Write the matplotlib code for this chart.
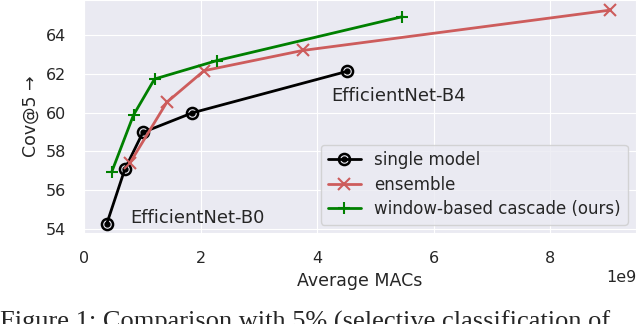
import matplotlib
matplotlib.use("Agg")
import matplotlib.pyplot as plt
import seaborn as sns

# values (MACs, Cov@5)
single_macs = [0.39e9, 0.70e9, 1.01e9, 1.86e9, 4.52e9]
single_cov = [54.27, 57.08, 58.98, 59.99, 62.13]
ensemble_macs = [0.79e9, 1.42e9, 2.06e9, 3.75e9, 9.03e9]
ensemble_cov = [57.42, 60.53, 62.16, 63.20, 65.28]
cascade_macs = [0.475e9, 0.85e9, 1.21e9, 2.28e9, 5.46e9]
cascade_cov = [56.94, 59.88, 61.73, 62.68, 64.94]

sns.set_style("darkgrid")
plt.rcParams['font.family'] = ['DejaVu Sans']

fig = plt.figure(figsize=(6.36, 3.24), dpi=100)
ax = fig.add_axes([84 / 636, 1 - 233 / 324, 1 - 84 / 636, 233 / 324])

l1, = ax.plot(single_macs, single_cov, color="k", lw=2, marker="o", ms=8,
              mfc="none", mec="k", mew=1.8)
l1b, = ax.plot(single_macs, single_cov, ls="none", marker="o", ms=3.5, color="k")
l2, = ax.plot(ensemble_macs, ensemble_cov, color="indianred", lw=2, marker="x",
              ms=8, mew=1.5)
l3, = ax.plot(cascade_macs, cascade_cov, color="green", lw=2, marker="+",
              ms=8, mew=1.5)

ax.text(0.79e9, 54.57, "EfficientNet-B0", fontsize=13, color=".15", va="center")
ax.text(4.25e9, 60.86, "EfficientNet-B4", fontsize=13, color=".15", va="center")

ax.set_xlim(0, 9.47e9)
ax.set_ylim(53.8, 65.8)
ax.set_xticks([0, 2e9, 4e9, 6e9, 8e9])
ax.set_yticks([54, 56, 58, 60, 62, 64])
ax.tick_params(labelsize=11.5, colors=".15", pad=9.5)
ax.xaxis.get_offset_text().set_fontsize(11.5)
ax.set_xlabel("Average MACs", fontsize=12.5, color=".15")
ax.set_ylabel("Cov@5 →", fontsize=12.5, color=".15")

ax.legend([(l1, l1b), l2, l3],
          ["single model", "ensemble", "window-based cascade (ours)"],
          loc="lower right", fontsize=12, handlelength=2.0, labelspacing=0.38)

fig.text(0.0, 1 - 311 / 324, "Figure 1: Comparison with 5% (selective classification of",
         family="Liberation Serif", fontsize=19, va="top", ha="left")

fig.savefig("out.png", dpi=100)
